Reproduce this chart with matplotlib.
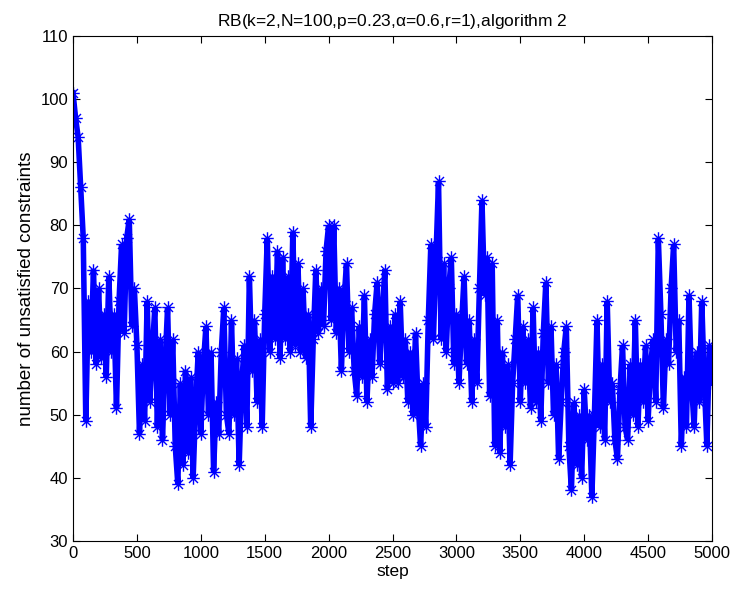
import matplotlib
matplotlib.use("Agg")
import matplotlib.pyplot as plt
from matplotlib.path import Path

# number of unsatisfied constraints, every 20 steps (0 .. 5000)
step_interval = 20
values = [101, 97, 94, 86, 78, 49, 68, 60, 73, 58,
          70, 59, 66, 56, 72, 60, 66, 51, 68, 77,
          63, 78, 81, 64, 70, 61, 47, 58, 49, 68,
          52, 60, 67, 48, 62, 46, 58, 67, 50, 62,
          45, 39, 55, 42, 57, 44, 56, 40, 52, 60,
          47, 58, 64, 50, 60, 41, 52, 47, 60, 67,
          50, 47, 65, 50, 59, 42, 55, 61, 48, 72,
          57, 65, 52, 62, 48, 66, 78, 60, 72, 62,
          76, 59, 75, 62, 72, 60, 79, 61, 74, 60,
          70, 59, 66, 48, 62, 73, 63, 70, 64, 76,
          80, 65, 80, 63, 70, 57, 68, 74, 60, 67,
          57, 53, 64, 56, 69, 52, 62, 56, 66, 71,
          58, 66, 73, 54, 64, 55, 66, 55, 68, 56,
          62, 52, 60, 50, 63, 52, 45, 55, 48, 65,
          77, 62, 75, 87, 62, 74, 60, 70, 75, 58,
          66, 55, 64, 72, 58, 65, 52, 62, 55, 70,
          84, 69, 75, 53, 74, 45, 65, 44, 60, 48,
          58, 42, 55, 62, 69, 52, 64, 55, 62, 51,
          67, 52, 60, 49, 63, 71, 55, 64, 50, 58,
          43, 52, 60, 64, 45, 38, 52, 42, 50, 40,
          54, 46, 50, 37, 50, 65, 48, 58, 46, 68,
          52, 55, 46, 43, 54, 61, 48, 46, 58, 50,
          65, 48, 58, 52, 61, 49, 58, 62, 52, 78,
          66, 51, 62, 58, 70, 77, 60, 65, 45, 56,
          48, 69, 55, 48, 60, 52, 68, 55, 45, 61,
          55]
steps = [i * step_interval for i in range(len(values))]

title = r"RB(k=2,N=100,p=0.23,$\alpha$=0.6,r=1),algorithm 2"
xlabel = "step"
ylabel = "number of unsatisfied constraints"
xticks = [0, 500, 1000, 1500, 2000, 2500, 3000, 3500, 4000, 4500, 5000]
yticks = [30, 40, 50, 60, 70, 80, 90, 100, 110]

plt.rcParams['font.family'] = ['Liberation Sans', 'DejaVu Sans']
plt.rcParams['mathtext.fontset'] = 'custom'
plt.rcParams['mathtext.it'] = 'Liberation Sans'
plt.rcParams['mathtext.rm'] = 'Liberation Sans'

# MATLAB-like asterisk marker (+ and x overlaid)
d = 0.72
asterisk = Path([(-1, 0), (1, 0), (0, -1), (0, 1), (-d, -d), (d, d), (-d, d), (d, -d)],
                [Path.MOVETO, Path.LINETO] * 4)

fig = plt.figure(figsize=(7.31, 5.96), dpi=100)
ax = fig.add_axes([0.0999, 0.0923, 0.8741, 0.8473])
ax.plot(steps, values, color='#0000ff', linestyle='-', linewidth=4.0,
        solid_joinstyle='miter', marker=asterisk, markersize=9, markeredgewidth=1.0,
        markerfacecolor='none', markeredgecolor='#0000ff')
ax.set_xlim(0, 5000)
ax.set_ylim(30, 110)
ax.set_xticks(xticks)
ax.set_yticks(yticks)
ax.tick_params(direction='in', top=True, right=True, labelsize=12, length=5)
for s in ax.spines.values():
    s.set_linewidth(0.8)
ax.set_title(title, fontsize=12.5, pad=7)
ax.set_xlabel(xlabel, fontsize=12.5, labelpad=2)
ax.set_ylabel(ylabel, fontsize=13.5, labelpad=4)
fig.savefig("out.png", dpi=100)
